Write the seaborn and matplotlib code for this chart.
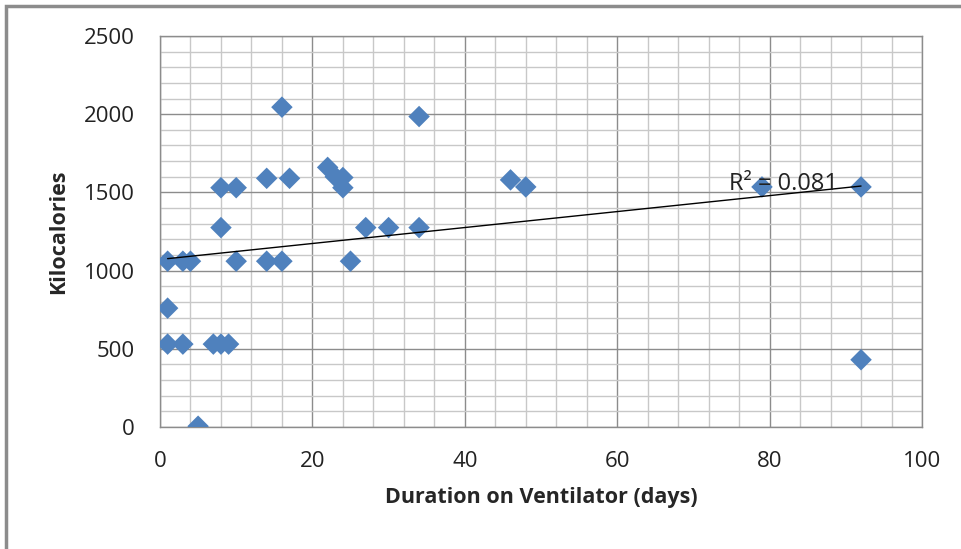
import matplotlib
matplotlib.use("Agg")
import matplotlib.pyplot as plt
import seaborn as sns
import numpy as np
import pandas as pd
from matplotlib.patches import Rectangle
from matplotlib.ticker import MultipleLocator

days = [1, 1, 1, 3, 3, 4, 5, 7, 8, 9, 8, 8, 10, 10, 14, 14, 16, 16, 17,
        22, 23, 24, 24, 25, 27, 30, 34, 34, 46, 48, 79, 92, 92]
kcal = [1060, 760, 530, 1060, 530, 1060, 5, 530, 530, 530, 1275, 1530, 1530, 1060,
        1590, 1060, 2045, 1060, 1590, 1660, 1600, 1595, 1530, 1060, 1275, 1275,
        1985, 1275, 1580, 1535, 1535, 1535, 430]
r2_label = "R² = 0.081"
x_label = "Duration on Ventilator (days)"
y_label = "Kilocalories"

df = pd.DataFrame({"days": days, "kcal": kcal})

sns.set_style("white")
plt.rcParams['font.family'] = ['Open Sans', 'DejaVu Sans']

fig = plt.figure(figsize=(9.61, 5.49), dpi=100)
ax = fig.add_axes([160/961, 1 - 427/549, (922-160)/961, (427-36)/549])

sns.scatterplot(data=df, x="days", y="kcal", marker="D", s=120, color="#4F81BD",
                edgecolor="none", ax=ax, zorder=3)
sns.regplot(data=df, x="days", y="kcal", scatter=False, ci=None, ax=ax,
            line_kws=dict(color="black", lw=1.0, zorder=4))

ax.set_xlim(0, 100)
ax.set_ylim(0, 2500)
ax.xaxis.set_major_locator(MultipleLocator(20))
ax.xaxis.set_minor_locator(MultipleLocator(4))
ax.yaxis.set_major_locator(MultipleLocator(500))
ax.yaxis.set_minor_locator(MultipleLocator(100))
ax.grid(which="minor", color="#C8C8C8", lw=1.0, zorder=0)
ax.grid(which="major", color="#8C8C8C", lw=1.0, zorder=1)
ax.set_axisbelow(True)
for s in ax.spines.values():
    s.set_color("#8C8C8C")
    s.set_linewidth(1.0)
ax.tick_params(which="major", direction="out", length=8, width=1, color="#8C8C8C",
               labelsize=16, labelcolor="#222222")
ax.tick_params(axis="x", which="major", pad=9)
ax.tick_params(axis="y", which="major", pad=10)
ax.tick_params(which="minor", length=0)

ax.set_xlabel(x_label, fontsize=15.5, fontweight="bold", labelpad=11)
ax.set_ylabel(y_label, fontsize=15.5, fontweight="bold", labelpad=11)

ax.text(81.8, 1555, r2_label, fontsize=17, ha="center", va="center", color="#222222", zorder=5)

fig.patches.append(Rectangle((6/961, -0.05), 1.2, 1 - 6/549 + 0.05, transform=fig.transFigure,
                             fill=False, edgecolor="#8C8C8C", lw=2.5))

fig.savefig("out.png", dpi=100)
